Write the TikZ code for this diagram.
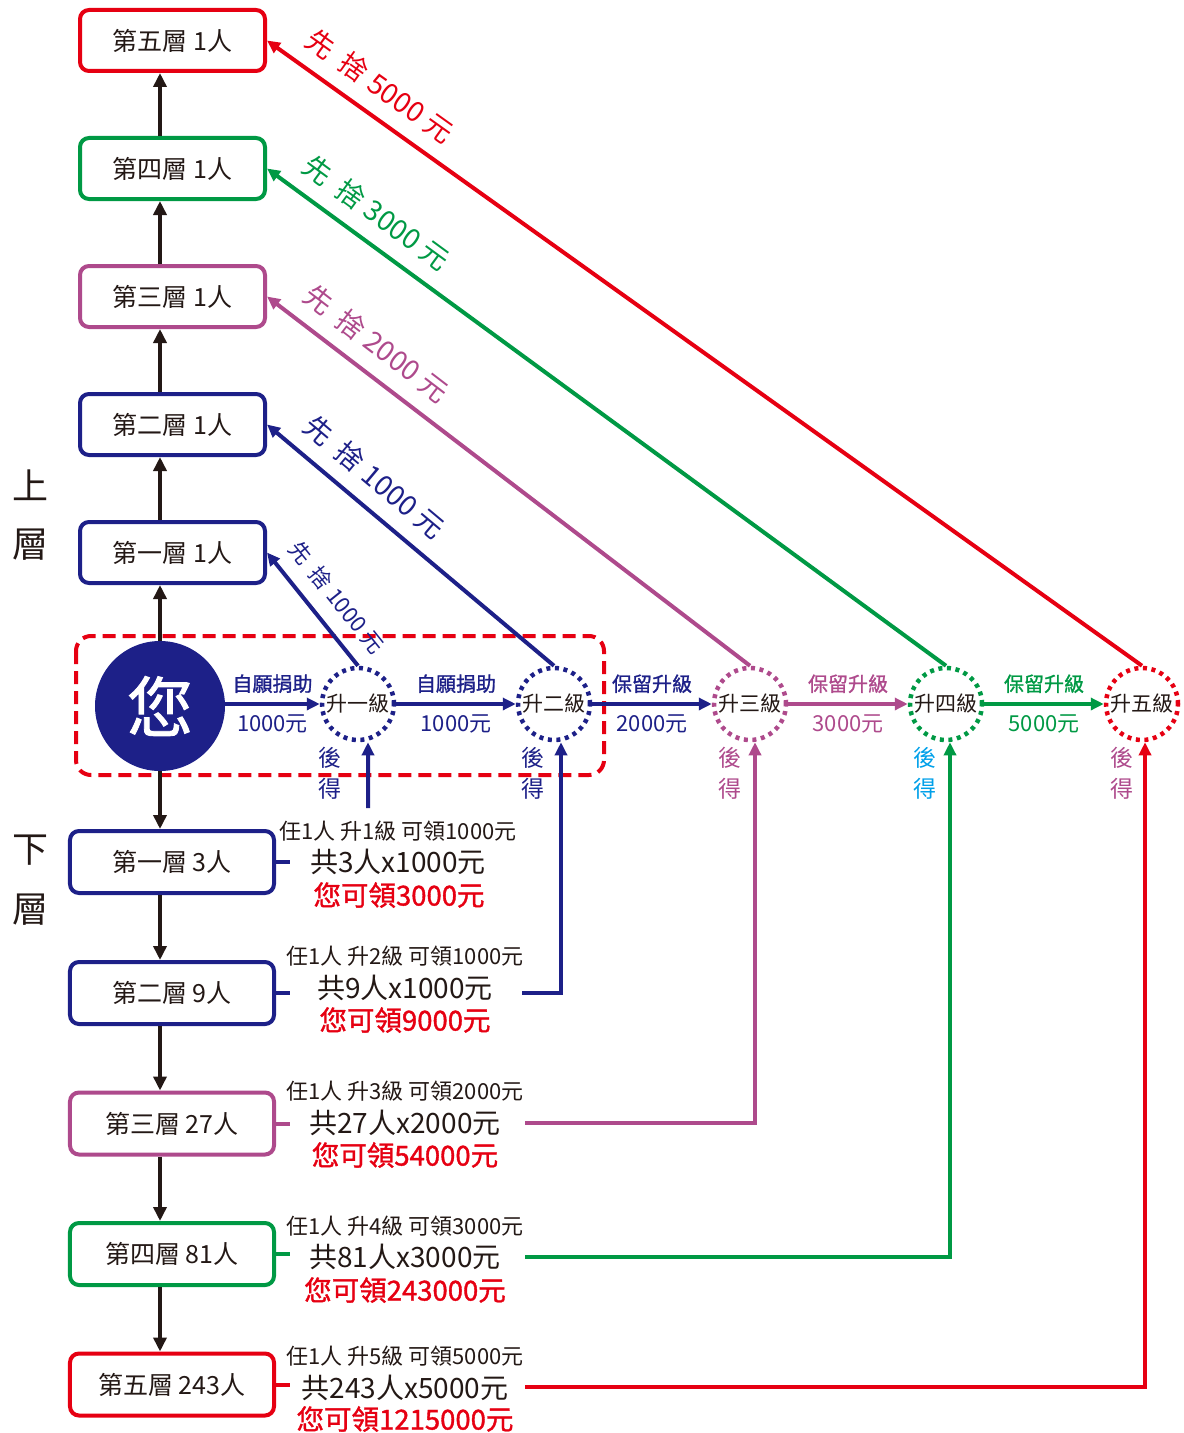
\documentclass[tikz,border=0pt]{standalone}
\usepackage{fontspec}
\setmainfont{Noto Sans CJK TC}
\newfontfamily\mb{Noto Sans CJK TC}[FakeBold=1.3]
\usetikzlibrary{arrows.meta}
\definecolor{navy}{HTML}{1D2088}
\definecolor{mag}{HTML}{AE4A8C}
\definecolor{grn}{HTML}{009944}
\definecolor{rd}{HTML}{E60012}
\definecolor{cyn}{HTML}{00A0E9}
\definecolor{ink}{HTML}{231815}
\newcommand{\setfs}[1]{\fontsize{#1}{1.2\dimexpr#1\relax}\selectfont}
\begin{document}
\begin{tikzpicture}[x=1bp,y=-1bp,
  tip/.style={-{Triangle[length=13bp,width=12bp]}},
  conn/.style={line width=4bp},
  upbox/.style={draw=#1, line width=4bp, rounded corners=9bp, minimum width=185bp, minimum height=61bp, inner sep=0pt, fill=white, font=\setfs{25bp}, text=ink},
  lowbox/.style={draw=#1, line width=4bp, rounded corners=9bp, minimum width=204bp, minimum height=62bp, inner sep=0pt, fill=white, font=\setfs{25bp}, text=ink},
  lvl/.style={draw=#1, circle, line width=4.5bp, dash pattern=on 4bp off 4.6bp, minimum size=72bp, inner sep=0pt, font=\setfs{21bp}, text=ink},
  lbl/.style={font=\mb\setfs{20bp}, text=#1, inner sep=0pt},
  amt/.style={font=\setfs{22bp}, text=#1, inner sep=0pt},
  diag/.style={font=\setfs{28bp}, text=#1, inner sep=0pt, sloped},
  later/.style={font=\fontsize{23bp}{31bp}\selectfont, text=#1, align=center, inner sep=0pt},
  side/.style={font=\setfs{36bp}, text=ink, inner sep=0pt},
  l1/.style={font=\setfs{22bp}, text=ink, inner sep=0pt},
  l2/.style={font=\setfs{28bp}, text=ink, inner sep=0pt},
  l3/.style={font=\mb\setfs{27.5bp}, text=rd, inner sep=0pt},
  blk/.style={line width=4.5bp, ink, -{Triangle[length=14bp,width=13bp]}}
]
\useasboundingbox (0,0) rectangle (1183,1433);

% upper boxes
\node[upbox=rd]   (u5) at (172.5,40.5)  {第五層 1人};
\node[upbox=grn]  (u4) at (172.5,168.5) {第四層 1人};
\node[upbox=mag]  (u3) at (172.5,296.5) {第三層 1人};
\node[upbox=navy] (u2) at (172.5,424.5) {第二層 1人};
\node[upbox=navy] (u1) at (172.5,552.5) {第一層 1人};

% lower boxes
\node[lowbox=navy] (d1) at (172,862)    {第一層 3人};
\node[lowbox=navy] (d2) at (172,993)    {第二層 9人};
\node[lowbox=mag]  (d3) at (172,1123.5) {第三層 27人};
\node[lowbox=grn]  (d4) at (172,1254)   {第四層 81人};
\node[lowbox=rd]   (d5) at (172,1384.5) {第五層 243人};

% side labels
\node[side] (sU1) at (30,485) {上};
\node[side] (sU2) at (30,545) {層};
\node[side] (sD1) at (30,850) {下};
\node[side] (sD2) at (30,910) {層};

% red dashed frame
\draw[rd, line width=4bp, dash pattern=on 13bp off 7bp, rounded corners=15bp] (76,636) rectangle (604,775);

% you
\node[circle, fill=navy, minimum size=130bp, inner sep=0pt, text=white, font=\mb\setfs{66bp}] (you) at (160,706) {您};

% level circles
\node[lvl=navy] (c1) at (358,704)  {升一級};
\node[lvl=navy] (c2) at (554,704)  {升二級};
\node[lvl=mag]  (c3) at (750,704)  {升三級};
\node[lvl=grn]  (c4) at (946,704)  {升四級};
\node[lvl=rd]   (c5) at (1142,704) {升五級};

% black vertical arrows
\coordinate (col) at (160,0);
\draw[blk] (col |- u4.north) -- (col |- u5.south);
\draw[blk] (col |- u3.north) -- (col |- u4.south);
\draw[blk] (col |- u2.north) -- (col |- u3.south);
\draw[blk] (col |- u1.north) -- (col |- u2.south);
\draw[blk] (you.north) -- (col |- u1.south);
\draw[blk] (you.south) -- (col |- d1.north);
\draw[blk] (col |- d1.south) -- (col |- d2.north);
\draw[blk] (col |- d2.south) -- (col |- d3.north);
\draw[blk] (col |- d3.south) -- (col |- d4.north);
\draw[blk] (col |- d4.south) -- (col |- d5.north);

% horizontal arrows
\draw[conn, navy, tip] (you.east |- c1) -- node[lbl=navy, above=9bp] {自願捐助} node[amt=navy, below=9bp] {1000元} (c1.west);
\draw[conn, navy, tip] (c1.east) -- node[lbl=navy, above=9bp] {自願捐助} node[amt=navy, below=9bp] {1000元} (c2.west);
\draw[conn, navy, tip] (c2.east) -- node[lbl=navy, above=9bp] {保留升級} node[amt=navy, below=9bp] {2000元} (c3.west);
\draw[conn, mag, tip]  (c3.east) -- node[lbl=mag, above=9bp] {保留升級} node[amt=mag, below=9bp] {3000元} (c4.west);
\draw[conn, grn, tip]  (c4.east) -- node[lbl=grn, above=9bp] {保留升級} node[amt=grn, below=9bp] {5000元} (c5.west);

% diagonal arrows
\draw[conn, navy, tip] (c1.north) -- node[pos=0.46, diag=navy, font=\setfs{22bp}, above=14bp] {先\hspace{.5em}捨\hspace{.25em}1000\hspace{.25em}元} (u1.east);
\draw[conn, navy, tip] (c2.north) -- node[pos=0.69, diag=navy, above=14bp] {先\hspace{.45em}捨\hspace{.25em}1000\hspace{.25em}元} (u2.east);
\draw[conn, mag, tip]  (c3.north) -- node[pos=0.81, diag=mag, above=14bp] {先\hspace{.45em}捨\hspace{.25em}2000\hspace{.25em}元} (u3.east);
\draw[conn, grn, tip]  (c4.north) -- node[pos=0.864, diag=grn, above=14bp] {先\hspace{.45em}捨\hspace{.25em}3000\hspace{.25em}元} (u4.east);
\draw[conn, rd, tip]   (c5.north) -- node[pos=0.89, diag=rd, above=14bp] {先\hspace{.45em}捨\hspace{.25em}5000\hspace{.25em}元} (u5.east);

% later-gain labels
\node[later=navy] (g1) at (330,773)  {後\\得};
\node[later=navy] (g2) at (533,773)  {後\\得};
\node[later=mag]  (g3) at (730,773)  {後\\得};
\node[later=cyn]  (g4) at (925,773)  {後\\得};
\node[later=mag]  (g5) at (1122,773) {後\\得};

% text blocks
\node[l1] (a1) at (398,831)  {任1人 升1級 可領1000元};
\node[l2] (b1) at (398,862)  {共3人x1000元};
\node[l3] (r1) at (399,895)  {您可領3000元};
\node[l1] (a2) at (405,956)  {任1人 升2級 可領1000元};
\node[l2] (b2) at (405,988)  {共9人x1000元};
\node[l3] (r2) at (405,1020) {您可領9000元};
\node[l1] (a3) at (405,1091) {任1人 升3級 可領2000元};
\node[l2] (b3) at (405,1123) {共27人x2000元};
\node[l3] (r3) at (405,1155) {您可領54000元};
\node[l1] (a4) at (405,1226) {任1人 升4級 可領3000元};
\node[l2] (b4) at (405,1257) {共81人x3000元};
\node[l3] (r4) at (405,1290) {您可領243000元};
\node[l1] (a5) at (405,1356) {任1人 升5級 可領5000元};
\node[l2] (b5) at (405,1388) {共243人x5000元};
\node[l3] (r5) at (405,1419) {您可領1215000元};

% bracket ticks
\draw[conn, navy] (d1.east) -- ++(14,0);
\draw[conn, navy] (d2.east) -- ++(14,0);
\draw[conn, mag]  (d3.east) -- ++(14,0);
\draw[conn, grn]  (d4.east) -- ++(14,0);
\draw[conn, rd]   (d5.east) -- ++(14,0);

% up arrows into circles
\coordinate (s1) at (368,808);
\coordinate (s2) at (522,993);
\coordinate (s3) at (525,1123);
\coordinate (s4) at (525,1257);
\coordinate (s5) at (525,1387);
\draw[conn, navy, tip] (s1) -- ([xshift=10bp]c1.south);
\draw[conn, navy, tip] (s2) -| ([xshift=7bp]c2.south);
\draw[conn, mag, tip]  (s3) -| ([xshift=5bp]c3.south);
\draw[conn, grn, tip]  (s4) -| ([xshift=4bp]c4.south);
\draw[conn, rd, tip]   (s5) -| ([xshift=3bp]c5.south);
\end{tikzpicture}
\end{document}
